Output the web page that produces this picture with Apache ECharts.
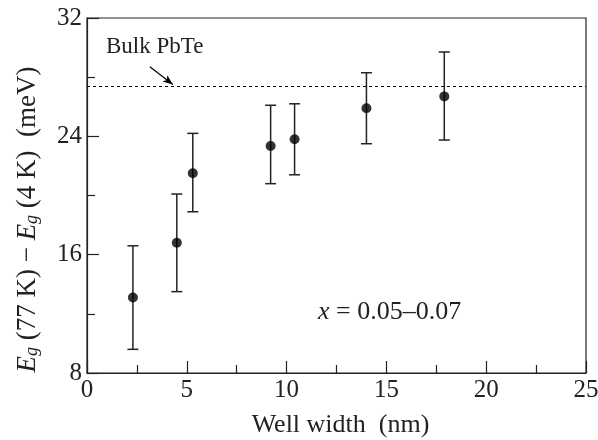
<!DOCTYPE html>
<html>
<head>
<meta charset="utf-8">
<script src="https://cdn.jsdelivr.net/npm/echarts@6/dist/echarts.min.js"></script>
<style>
  html, body { margin: 0; padding: 0; background: #fff; }
  #main { width: 598px; height: 440px; }
</style>
</head>
<body>
<div id="main"></div>
<script>
// Well widths (nm) and measured gap differences (meV)
var widths = [2.3, 4.5, 5.3, 9.2, 10.4, 14.0, 17.9];
var values = [13.1, 16.8, 21.5, 23.35, 23.8, 25.9, 26.7];
var upper = [16.6, 20.1, 24.2, 26.1, 26.2, 28.3, 29.7];
var lower = [9.6, 13.5, 18.9, 20.8, 21.4, 23.5, 23.75];
var bulkValue = 27.4;
var xTicks = [0, 5, 10, 15, 20, 25];
var yTicks = [8, 16, 24, 32];

var font = "Liberation Serif, Times New Roman, serif";
var ink = "#222";
var fs = 25;

var chartDom = document.getElementById("main");
var myChart = echarts.init(chartDom);

var pointData = widths.map(function (w, i) { return [w, values[i]]; });
var errData = widths.map(function (w, i) { return [w, lower[i], upper[i]]; });

var option = {
    animation: false,
    backgroundColor: "#fff",
    grid: {
        left: 87, right: 12, top: 18, bottom: 67,
        outerBoundsMode: "none",
        containLabel: false,
        show: true, borderColor: ink, borderWidth: 1.2
    },
    xAxis: {
        type: "value",
        min: xTicks[0], max: xTicks[xTicks.length - 1], interval: 5,
        name: "Well width  (nm)",
        nameLocation: "middle", nameGap: 39,
        nameTextStyle: { fontFamily: font, fontSize: fs + 1, color: ink, padding: [0, 0, 0, 8] },
        axisLine: { lineStyle: { color: ink, width: 1.2 } },
        axisTick: { inside: true, length: 12, lineStyle: { color: ink, width: 1.2 } },
        minorTick: { show: true, splitNumber: 2, length: 8, lineStyle: { color: ink, width: 1.2 } },
        splitLine: { show: false },
        axisLabel: { fontFamily: font, fontSize: fs, color: ink, margin: 5 }
    },
    yAxis: {
        type: "value",
        min: yTicks[0], max: yTicks[yTicks.length - 1], interval: 8,
        name: "{i|E}{s|g}{n| (77 K) \u2212 }{i|E}{s|g}{n| (4 K)  (meV)}",
        nameLocation: "middle", nameGap: 46, nameRotate: 90,
        nameTextStyle: {
            fontFamily: font, fontSize: 27, color: ink,
            padding: [0, 48, 0, 0],
            rich: {
                i: { fontFamily: font, fontSize: 27, fontStyle: "italic", color: ink, verticalAlign: "bottom", lineHeight: 30 },
                s: { fontFamily: font, fontSize: 18, fontStyle: "italic", color: ink, verticalAlign: "bottom", lineHeight: 20 },
                n: { fontFamily: font, fontSize: 27, color: ink, verticalAlign: "bottom", lineHeight: 30 }
            }
        },
        axisLine: { lineStyle: { color: ink, width: 1.2 } },
        axisTick: { inside: true, length: 12, lineStyle: { color: ink, width: 1.2 } },
        minorTick: { show: true, splitNumber: 2, length: 8, lineStyle: { color: ink, width: 1.2 } },
        splitLine: { show: false },
        axisLabel: { fontFamily: font, fontSize: fs, color: ink, margin: 5 }
    },
    series: [
        {
            // error bars
            type: "custom",
            data: errData,
            silent: true,
            z: 2,
            renderItem: function (params, api) {
                var x = api.value(0);
                var lo = api.coord([x, api.value(1)]);
                var hi = api.coord([x, api.value(2)]);
                var cap = 5.5;
                var style = { stroke: ink, lineWidth: 1.5 };
                return {
                    type: "group",
                    children: [
                        { type: "line", shape: { x1: lo[0], y1: lo[1], x2: hi[0], y2: hi[1] }, style: style },
                        { type: "line", shape: { x1: lo[0] - cap, y1: lo[1], x2: lo[0] + cap, y2: lo[1] }, style: style },
                        { type: "line", shape: { x1: hi[0] - cap, y1: hi[1], x2: hi[0] + cap, y2: hi[1] }, style: style }
                    ]
                };
            }
        },
        {
            type: "scatter",
            data: pointData,
            symbol: "circle",
            symbolSize: 10,
            itemStyle: { color: "#000" },
            z: 3,
            markLine: {
                silent: true,
                animation: false,
                label: { show: false },
                data: [
                    [
                        { coord: [0, bulkValue], symbol: "none" },
                        { coord: [25, bulkValue], symbol: "none" }
                    ],
                    [
                        { coord: [3.15, 28.7], symbol: "none", lineStyle: { type: "solid", width: 1.2 } },
                        { coord: [4.3, 27.5], symbol: "arrow", symbolSize: [6, 10], lineStyle: { type: "solid", width: 1.2 } }
                    ]
                ],
                lineStyle: { color: "#000", type: [3, 3], width: 1.2 }
            }
        }
    ],
    graphic: [
        {
            type: "text", left: 106, top: 35,
            style: { text: "Bulk PbTe", font: "23px " + font, fill: ink }
        },
        {
            type: "text", left: 318, top: 299,
            style: {
                text: "{i|x}{n| = 0.05\u20130.07}",
                rich: {
                    i: { font: "italic 26px " + font, fill: ink },
                    n: { font: "26px " + font, fill: ink }
                }
            }
        }
    ]
};

option && myChart.setOption(option);
</script>
</body>
</html>
